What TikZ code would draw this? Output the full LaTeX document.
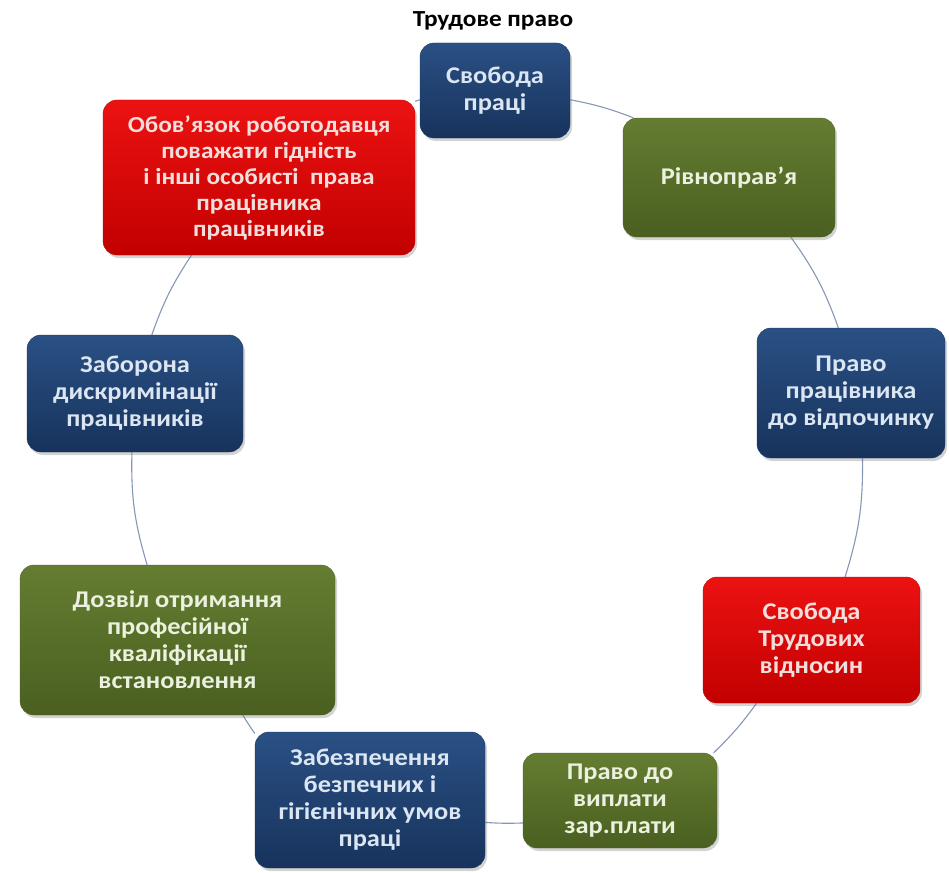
\documentclass[tikz,border=0pt]{standalone}
\usepackage{fontspec}
\setmainfont{Carlito}[FakeStretch=1.1]
\usetikzlibrary{shadows,backgrounds}
\definecolor{bluetop}{HTML}{2A5084}
\definecolor{bluebot}{HTML}{17335C}
\definecolor{bluebd}{HTML}{1A3963}
\definecolor{bluetxt}{HTML}{DCE6F2}
\definecolor{greentop}{HTML}{647D31}
\definecolor{greenbot}{HTML}{4A5F20}
\definecolor{greenbd}{HTML}{4F6526}
\definecolor{greentxt}{HTML}{EBF1DE}
\definecolor{redtop}{HTML}{EC1212}
\definecolor{redbot}{HTML}{C20000}
\definecolor{redbd}{HTML}{C80000}
\definecolor{redtxt}{HTML}{F4DEDC}
\definecolor{connc}{HTML}{8497B4}
\tikzset{
  cyclebox/.style={rounded corners=14pt, align=center, inner sep=3pt,
    font=\bfseries\fontsize{24}{27}\selectfont,
    drop shadow={shadow xshift=2pt, shadow yshift=-3pt, opacity=0.35}},
  bluebox/.style={cyclebox, draw=bluebd, top color=bluetop, bottom color=bluebot, text=bluetxt},
  greenbox/.style={cyclebox, draw=greenbd, top color=greentop, bottom color=greenbot, text=greentxt},
  redbox/.style={cyclebox, draw=redbd, top color=redtop, bottom color=redbot, text=redtxt},
  conn/.style={draw=connc, line width=1.1pt},
  sz/.style 2 args={minimum width=#1pt, minimum height=#2pt}
}
\begin{document}
\begin{tikzpicture}[x=1pt,y=1pt]
\useasboundingbox (0,0) rectangle (949,-872);
\node[anchor=base, font=\bfseries\fontsize{23}{27}\selectfont] (title) at (493,-27) {Трудове право};

\node[bluebox, sz={150}{95}] (svob) at (495,-90.5) {Свобода\\праці};
\node[greenbox, sz={212}{119}] (rivno) at (729,-177.5) {Рівноправ’я};
\node[redbox, sz={312}{155}, font=\bfseries\fontsize{23}{26}\selectfont] (obov) at (259,-177.5) {Обов’язок роботодавця\\поважати гідність\\і інші особисті~ права\\працівника\\працівників};
\node[bluebox, sz={188}{130}] (pravo) at (851,-393) {Право\\працівника\\до відпочинку};
\node[bluebox, sz={216}{117}] (zabor) at (135,-393.5) {Заборона\\дискримінації\\працівників};
\node[greenbox, sz={315}{150}] (dozvil) at (177.5,-640) {Дозвіл отримання\\професійної\\кваліфікації\\встановлення};
\node[redbox, sz={217}{126}] (svtrud) at (811.5,-640) {Свобода\\Трудових\\відносин};
\node[bluebox, sz={230}{136}] (zabezp) at (370,-800) {Забезпечення\\безпечних і\\гігієнічних умов\\праці};
\node[greenbox, sz={194}{95}] (vypl) at (620,-800.5) {Право до\\виплати\\зар.плати};

\begin{pgfonlayer}{background}
\draw[conn] (svob.-7) to[bend left=5] (rivno.148);
\draw[conn] (rivno.-44) to[bend left=8] (pravo.101);
\draw[conn] (pravo.-80) to[bend left=9] (svtrud.62);
\draw[conn] (svtrud.229) to[bend left=5] (vypl.27);
\draw[conn] (vypl.193) to[bend left=3] (zabezp.-11);
\draw[conn] (zabezp.150) to[bend left=2] (dozvil.-49);
\draw[conn] (dozvil.112) to[bend left=9] (zabor.-93);
\draw[conn] (zabor.74) to[bend left=7] (obov.229);
\draw[conn] (obov.26) -- (svob.187);
\end{pgfonlayer}
\end{tikzpicture}
\end{document}
